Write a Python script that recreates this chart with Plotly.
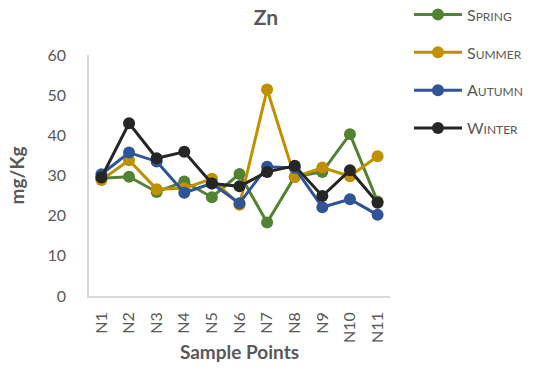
import plotly.graph_objects as go

categories = ["N1", "N2", "N3", "N4", "N5", "N6", "N7", "N8", "N9", "N10", "N11"]
spring = [29.3, 29.7, 25.9, 28.5, 24.6, 30.4, 18.3, 29.7, 30.9, 40.3, 23.5]
summer = [28.9, 33.8, 26.6, 26.8, 29.2, 22.7, 51.4, 29.6, 32.0, 29.8, 34.8]
autumn = [30.3, 35.7, 33.5, 25.7, 28.0, 23.1, 32.2, 31.9, 22.1, 24.1, 20.2]
winter = [29.5, 43.0, 34.3, 35.9, 28.0, 27.3, 30.9, 32.4, 24.9, 31.3, 23.2]

series = [
    ("S<span style='font-size:12px'>PRING</span>", spring, "#548235"),
    ("S<span style='font-size:12px'>UMMER</span>", summer, "#BF9000"),
    ("A<span style='font-size:12px'>UTUMN</span>", autumn, "#2F5597"),
    ("W<span style='font-size:12px'>INTER</span>", winter, "#262626"),
]

FONT = "Lato, 'Open Sans', sans-serif"
GRAY = "#595959"

fig = go.Figure()
for i, (name, vals, col) in enumerate(series):
    fig.add_trace(go.Scatter(
        x=categories, y=vals, name=name, mode="lines+markers",
        line=dict(color=col, width=3),
        marker=dict(color=col, size=12),
        legendgroup=f"g{i}",
    ))

fig.update_layout(
    width=543, height=370,
    margin=dict(l=89, r=153, t=55, b=74, autoexpand=False),
    paper_bgcolor="white", plot_bgcolor="white",
    font=dict(family=FONT, color=GRAY),
    title=dict(text="<b>Zn</b>", x=266/543, xanchor="center", y=1-18/370, yanchor="middle",
               font=dict(size=21, color=GRAY, family=FONT)),
    showlegend=True,
    legend=dict(x=1.063, xanchor="left", y=1.238, yanchor="top",
                font=dict(size=16, color=GRAY, family=FONT),
                tracegroupgap=14, itemwidth=48, bgcolor="rgba(0,0,0,0)"),
    xaxis=dict(
        type="category", range=[-0.45, 10.45],
        showline=True, linecolor="#D9D9D9", linewidth=1.5,
        showgrid=False, ticks="", tickangle=-90,
        tickfont=dict(size=16, color=GRAY),
        ticklabelstandoff=8,
        title=dict(text="<b>Sample Points</b>", font=dict(size=19, color=GRAY), standoff=4),
    ),
    yaxis=dict(
        range=[0, 60], dtick=10,
        showline=True, linecolor="#D9D9D9", linewidth=1.5,
        showgrid=False, ticks="", zeroline=False,
        tickfont=dict(size=16, color=GRAY),
        ticklabelstandoff=18,
        title=dict(text="<b>mg/Kg</b>", font=dict(size=19, color=GRAY), standoff=18),
    ),
)

fig.write_html("out.html")
